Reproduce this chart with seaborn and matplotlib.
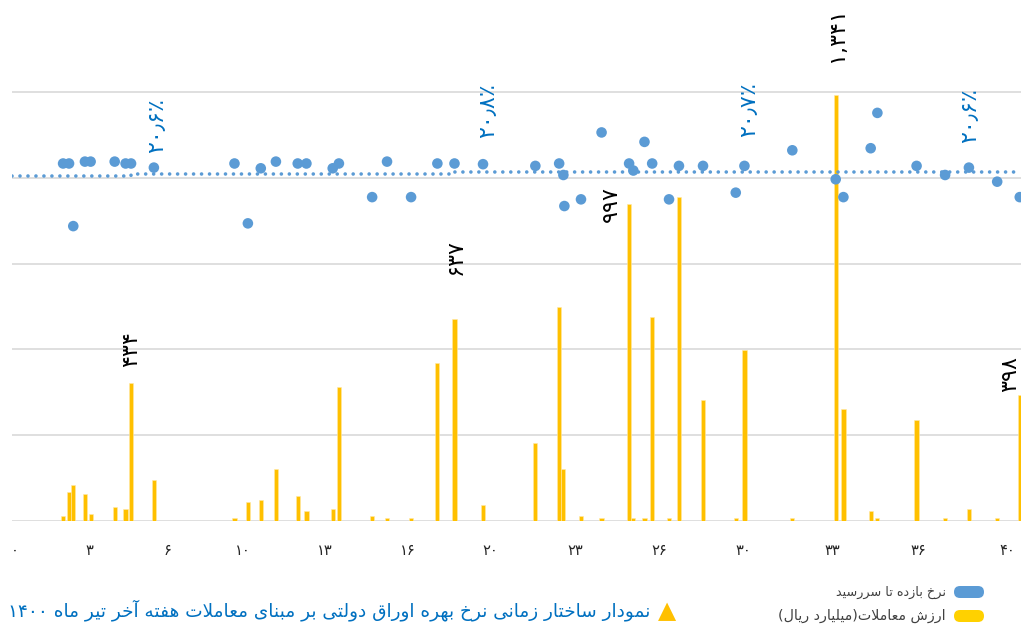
import matplotlib
matplotlib.use("Agg")
import matplotlib.pyplot as plt
import matplotlib.transforms as mtransforms
from matplotlib.patches import FancyBboxPatch
import pandas as pd
import seaborn as sns

# ---------------------------------------------------------------- data
# time to maturity (months) of each traded bond
maturity = [1.94, 2.18, 2.35, 2.82, 3.05, 4.02, 4.46, 4.68, 5.60,
            8.85, 9.39, 9.91, 10.52, 11.40, 11.75, 12.81, 13.06,
            14.40, 15.00, 15.97, 17.03, 17.72, 18.87,
            20.98, 21.94, 22.11, 22.15, 22.82, 23.65,
            24.76, 24.93, 25.38, 25.69, 26.37, 26.77, 27.74, 29.06, 29.41,
            31.34, 33.09, 33.40, 34.50, 34.77, 36.35, 37.50, 38.46, 39.60, 40.51]

# weekly trade value (billion rials)
trade_value = [16, 92, 113, 86, 23, 44, 37, 434, 128,
               8, 59, 65, 163, 79, 30, 37, 422,
               16, 8, 8, 497, 637, 50,
               246, 674, 163, 0, 16, 8,
               997, 8, 8, 642, 8, 1020, 380, 8, 538,
               8, 1341, 352, 30, 10, 317, 8, 37, 8, 398]

# yield to maturity (%)
ytm = [20.84, 20.84, 17.19, 20.95, 20.95, 20.95, 20.84, 20.84, 20.6,
       20.84, 17.35, 20.56, 20.95, 20.84, 20.84, 20.56, 20.84,
       18.88, 20.95, 18.88, 20.84, 20.84, 20.8,
       20.70, 20.84, 20.17, 18.36, 18.75, 22.65,
       20.84, 20.43, 22.10, 20.84, 18.75, 20.70, 20.70, 19.14, 20.7,
       21.61, 19.92, 18.88, 21.73, 23.79, 20.70, 20.17, 20.6, 19.78, 18.88]

# average yield line: break points (months) and levels (%)
avg_breaks = [4.68, 17.72]
avg_levels = [20.13, 20.24, 20.37]

# bars and points that carry a value label
bar_labelled = [434, 637, 997, 1341, 398]
ytm_labelled = [5.60, 18.87, 29.41, 38.46]

# x axis tick labels
tick_labels = [0, 3, 6, 10, 13, 16, 20, 23, 26, 30, 33, 36, 40]

title = "نمودار ساختار زمانی نرخ بهره اوراق دولتی بر مبنای معاملات هفته آخر تیر ماه 1400"
legend_ytm = "نرخ بازده تا سررسید"
legend_value = "ارزش معاملات(میلیارد ریال)"

# ---------------------------------------------------------------- Persian text helpers
FORMS = {
    'ا': ('\uFE8D', '\uFE8E', None, None),
    'آ': ('\uFE81', '\uFE82', None, None),
    'ب': ('\uFE8F', '\uFE90', '\uFE91', '\uFE92'),
    'ت': ('\uFE95', '\uFE96', '\uFE97', '\uFE98'),
    'خ': ('\uFEA5', '\uFEA6', '\uFEA7', '\uFEA8'),
    'د': ('\uFEA9', '\uFEAA', None, None),
    'ر': ('\uFEAD', '\uFEAE', None, None),
    'ز': ('\uFEAF', '\uFEB0', None, None),
    'س': ('\uFEB1', '\uFEB2', '\uFEB3', '\uFEB4'),
    'ش': ('\uFEB5', '\uFEB6', '\uFEB7', '\uFEB8'),
    'ع': ('\uFEC9', '\uFECA', '\uFECB', '\uFECC'),
    'ف': ('\uFED1', '\uFED2', '\uFED3', '\uFED4'),
    'ق': ('\uFED5', '\uFED6', '\uFED7', '\uFED8'),
    'ل': ('\uFEDD', '\uFEDE', '\uFEDF', '\uFEE0'),
    'م': ('\uFEE1', '\uFEE2', '\uFEE3', '\uFEE4'),
    'ن': ('\uFEE5', '\uFEE6', '\uFEE7', '\uFEE8'),
    'ه': ('\uFEE9', '\uFEEA', '\uFEEB', '\uFEEC'),
    'و': ('\uFEED', '\uFEEE', None, None),
    'ی': ('\uFBFC', '\uFBFD', '\uFBFE', '\uFBFF'),
}
LAM_ALEF = {'ا': ('\uFEFB', '\uFEFC'), 'آ': ('\uFEF5', '\uFEF6')}
FA_DIGITS = str.maketrans('0123456789.%', '۰۱۲۳۴۵۶۷۸۹٫٪')
NUM_CHARS = set('۰۱۲۳۴۵۶۷۸۹0123456789,٫')
MIRROR = {'(': ')', ')': '('}


def _dual(ch):
    return ch in FORMS and FORMS[ch][2] is not None


def shape(text):
    out, i, n = [], 0, len(text)
    while i < n:
        ch = text[i]
        if ch not in FORMS:
            out.append(ch)
            i += 1
            continue
        joins_prev = i > 0 and _dual(text[i - 1])
        if ch == 'ل' and i + 1 < n and text[i + 1] in LAM_ALEF:
            iso, fin = LAM_ALEF[text[i + 1]]
            out.append(fin if joins_prev else iso)
            i += 2
            continue
        joins_next = _dual(ch) and i + 1 < n and text[i + 1] in FORMS
        iso, fin, ini, med = FORMS[ch]
        if joins_prev and joins_next:
            out.append(med)
        elif joins_prev:
            out.append(fin)
        elif joins_next:
            out.append(ini)
        else:
            out.append(iso)
        i += 1
    return ''.join(out)


def rtl(text):
    s = shape(text.translate(FA_DIGITS))
    runs = []
    for ch in s:
        num = ch in NUM_CHARS
        if runs and runs[-1][0] == num:
            runs[-1][1].append(ch)
        else:
            runs.append([num, [ch]])
    parts = []
    for num, chars in reversed(runs):
        if num:
            parts.append(''.join(chars))
        else:
            parts.append(''.join(MIRROR.get(c, c) for c in reversed(chars)))
    return ''.join(parts)


def fa_num(v):
    return f"{v:,}".translate(FA_DIGITS)


# ---------------------------------------------------------------- figure
sns.set_style("white")
plt.rcParams['font.family'] = ['DejaVu Sans']

df = pd.DataFrame({"maturity": maturity, "value": trade_value, "ytm": ytm})

W, H = 1021, 624
fig = plt.figure(figsize=(W / 100, H / 100), dpi=100)
ax = fig.add_axes([12 / W, 103 / H, 1009 / W, 521 / H])
ax2 = ax.twinx()

value_top = 1640
ax.set_xlim(-0.12, 40.56)
ax.set_ylim(0, value_top)
ax2.set_ylim(0, value_top / 54.0)

# gridlines shared by both scales (0-25 % / 0-1350 bn rials)
ax.set_yticks([0, 270, 540, 810, 1080, 1350])
ax.yaxis.grid(True, color='#D9D9D9', linewidth=1.2)
ax.set_axisbelow(True)
ax.tick_params(axis='y', length=0, labelleft=False)
ax2.tick_params(axis='y', length=0, labelright=False)
ax2.set_yticks([])
for a in (ax, ax2):
    for sp in a.spines.values():
        sp.set_visible(False)

# trade value bars
bars = df[df["value"] > 0]
ax.bar(bars["maturity"], bars["value"], width=0.17, color='#FFC000',
       edgecolor='#FFE9A6', linewidth=0.4, zorder=2)

# average yield (dotted step line)
line_x = [ax.get_xlim()[0]] + avg_breaks + [ax.get_xlim()[1]]
line_y = avg_levels + [avg_levels[-1]]
sns.lineplot(x=line_x, y=line_y, ax=ax2, drawstyle='steps-post', color='#5B9BD5',
             linewidth=2.6, linestyle=(0, (0.01, 2.2)), dash_capstyle='round',
             sort=False, estimator=None, zorder=3)

# yield points
sns.scatterplot(data=df, x="maturity", y="ytm", ax=ax2, s=58, color='#5B9BD5',
                edgecolor='none', linewidth=0, zorder=4, legend=False)
ax2.set_xlabel("")
ax2.set_ylabel("")
ax.set_xlabel("")
ax.set_ylabel("")

# bar value labels (rotated)
bar_offsets = {434: (0, 16), 637: (1, 44), 997: (-18, -18), 1341: (1, 33), 398: (-10, 3)}
for _, r in df[df["value"].isin(bar_labelled)].iterrows():
    dx, dy = bar_offsets[int(r["value"])]
    ax.annotate(fa_num(int(r["value"])), xy=(r["maturity"], r["value"]),
                xytext=(dx, dy), textcoords='offset pixels', rotation=90,
                ha='center', va='bottom', fontsize=16, color='black', zorder=6,
                annotation_clip=False)

# yield labels (rotated)
ytm_offsets = {5.60: (3, 15), 18.87: (5, 26), 29.41: (5, 29), 38.46: (1, 25)}
for _, r in df[df["maturity"].isin(ytm_labelled)].iterrows():
    dx, dy = ytm_offsets[r["maturity"]]
    ax2.annotate(f"{r['ytm']:.1f}%".translate(FA_DIGITS), xy=(r["maturity"], r["ytm"]),
                 xytext=(dx, dy), textcoords='offset pixels', rotation=90,
                 ha='center', va='bottom', fontsize=16, color='#0070C0', zorder=6)

# x axis ticks
tick_pos = [0, 3.02, 6.13, 9.19, 12.50, 15.85, 19.15, 22.58, 25.97, 29.35, 32.94, 36.41, 40.0]
ax.set_xticks(tick_pos)
ax.set_xticklabels([fa_num(t) for t in tick_labels])
ax.tick_params(axis='x', length=0, pad=16, labelsize=10.5, labelcolor='#262626')

# caption with marker
fig.text(650 / W, 1 - 610 / H, rtl(title), ha='right', va='center',
         fontsize=13.3, color='#0070C0')
fig.text(667 / W, 1 - 611 / H, '▲', ha='center', va='center',
         fontsize=17, color='#FFC000')

# legend
ident = mtransforms.IdentityTransform()
for cy, col, txt, fs in [(592, '#5B9BD5', legend_ytm, 9.2), (616, '#FFD100', legend_value, 10.3)]:
    fig.patches.append(FancyBboxPatch((954, H - cy - 6), 30, 12,
                                      boxstyle='round,pad=0,rounding_size=6',
                                      transform=ident, facecolor=col,
                                      edgecolor='none', figure=fig))
    fig.text(946 / W, 1 - cy / H, rtl(txt), ha='right', va='center',
             fontsize=fs, color='#404040')

fig.savefig("out.png", dpi=100)
